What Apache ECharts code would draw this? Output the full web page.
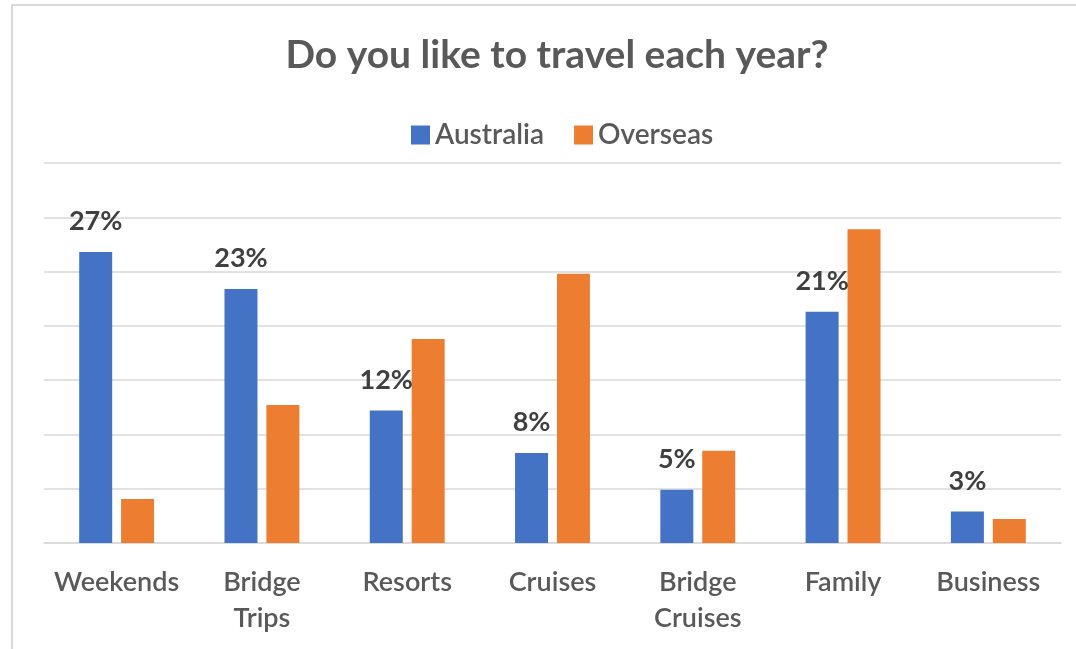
<!DOCTYPE html>
<html>
<head>
<meta charset="utf-8">
<script src="https://cdn.jsdelivr.net/npm/echarts@6/dist/echarts.min.js"></script>
<style>
html,body{margin:0;padding:0;background:#fff;}
#chart{width:1076px;height:649px;}
</style>
</head>
<body>
<div id="chart"></div>
<script>
const categories = ['Weekends', 'Bridge\nTrips', 'Resorts', 'Cruises', 'Bridge\nCruises', 'Family', 'Business'];
const australia = [26.8, 23.4, 12.2, 8.3, 4.9, 21.3, 2.9];
const overseas = [4.05, 12.7, 18.8, 24.8, 8.5, 28.9, 2.2];
const seriesNames = ['Australia', 'Overseas'];
const titleText = 'Do you like to travel each year?';

const FONT = 'Lato, "Open Sans", sans-serif';
const chart = echarts.init(document.getElementById('chart'), null, {renderer: 'canvas'});
chart.setOption({
  animation: false,
  backgroundColor: '#ffffff',
  color: ['#4472C4', '#ED7D31'],
  graphic: [{
    type: 'rect', silent: true, z: -1,
    shape: {x: 12, y: 5, width: 1200, height: 800},
    style: {fill: 'none', stroke: '#d9d9d9', lineWidth: 2}
  }],
  title: {
    text: titleText,
    left: 552, top: 31, textAlign: 'center',
    textStyle: {fontFamily: FONT, fontSize: 39, fontWeight: 'bold', color: '#595959'}
  },
  legend: {
    data: seriesNames,
    left: 406, top: 116,
    itemWidth: 19, itemHeight: 19, itemGap: 30,
    icon: 'rect',
    textStyle: {fontFamily: FONT, fontSize: 28, fontWeight: 600, color: '#595959'}
  },
  grid: {left: 44, right: 15, top: 163, bottom: 106, containLabel: false},
  xAxis: {
    type: 'category',
    data: categories,
    axisLine: {lineStyle: {color: '#d9d9d9', width: 1.5}},
    axisTick: {show: false},
    axisLabel: {
      fontFamily: FONT, fontSize: 27, color: '#595959', fontWeight: 600,
      lineHeight: 36, margin: 21, interval: 0
    }
  },
  yAxis: {
    type: 'value', min: 0, max: 35, interval: 5,
    axisLabel: {show: false},
    axisLine: {show: false},
    axisTick: {show: false},
    splitLine: {lineStyle: {color: '#d9d9d9', width: 1.5}}
  },
  series: [
    {
      name: seriesNames[0], type: 'bar', data: australia,
      barWidth: 33, barGap: '27%',
      label: {
        show: true, position: 'top', distance: 17,
        formatter: p => Math.round(p.value) + '%',
        fontFamily: FONT, fontSize: 27, fontWeight: 'bold', color: '#404040'
      }
    },
    {
      name: seriesNames[1], type: 'bar', data: overseas,
      barWidth: 33, barGap: '27%'
    }
  ]
});
</script>
</body>
</html>
